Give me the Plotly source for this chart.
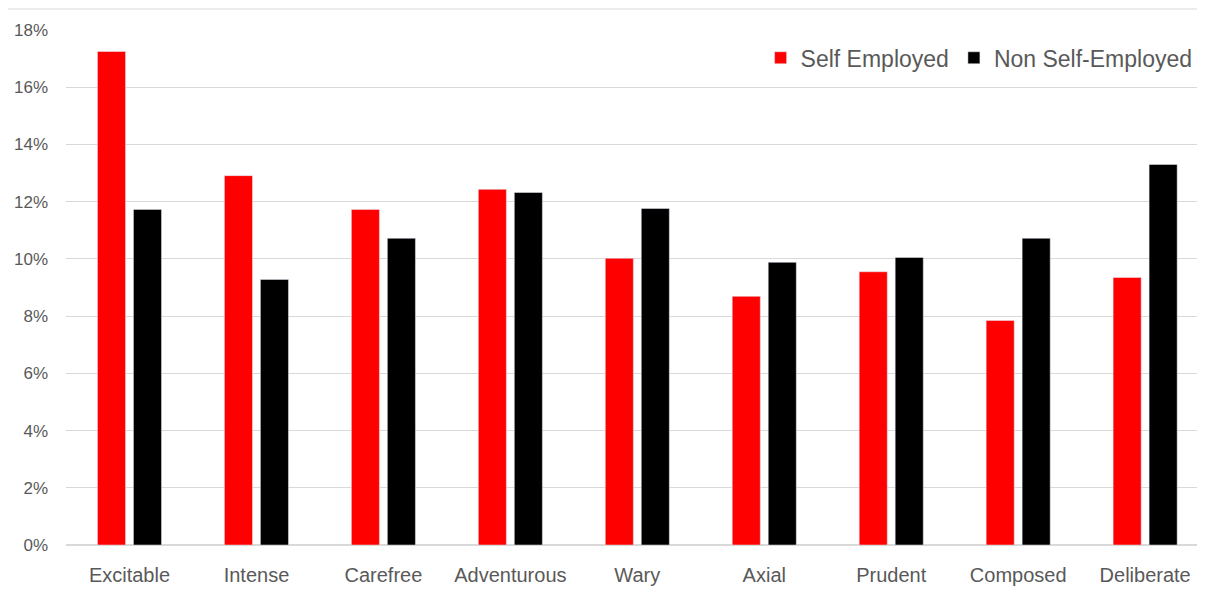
import plotly.graph_objects as go

categories = ["Excitable", "Intense", "Carefree", "Adventurous", "Wary", "Axial", "Prudent", "Composed", "Deliberate"]
self_employed = [0.1725, 0.1291, 0.1173, 0.1243, 0.1002, 0.0869, 0.0955, 0.0785, 0.0935]
non_self_employed = [0.1173, 0.0928, 0.1072, 0.1232, 0.1176, 0.0988, 0.1005, 0.1072, 0.1330]
y_ticks = [0, 0.02, 0.04, 0.06, 0.08, 0.10, 0.12, 0.14, 0.16, 0.18]

font_family = "Liberation Sans, Arial, sans-serif"
text_color = "#595959"

fig = go.Figure()
fig.add_trace(go.Bar(name="Self Employed", x=categories, y=self_employed, marker_color="#FF0000"))
fig.add_trace(go.Bar(name="Non Self-Employed", x=categories, y=non_self_employed, marker_color="#000000"))

fig.update_layout(
    width=1197, height=589,
    margin=dict(l=58, r=4, t=22, b=52),
    paper_bgcolor="white", plot_bgcolor="white",
    barmode="group", bargap=0.433, bargroupgap=0.22,
    font=dict(family=font_family, color=text_color),
    showlegend=True,
    legend=dict(orientation="h", x=0.997, xanchor="right", y=0.946, yanchor="middle",
                font=dict(size=23, color=text_color), bgcolor="rgba(0,0,0,0)",
                itemwidth=30, traceorder="normal"),
    xaxis=dict(range=[-0.5, 8.44], showgrid=False, showline=False, ticks="",
               tickfont=dict(size=20, color=text_color), ticklabelstandoff=16, fixedrange=True),
    yaxis=dict(range=[0, 0.18], tickvals=y_ticks, tickformat=".0%",
               showgrid=True, gridcolor="#D9D9D9", gridwidth=1, zeroline=True,
               zerolinecolor="#D9D9D9", showline=False, ticks="",
               tickfont=dict(size=17, color=text_color), ticklabelstandoff=17),
)

fig.add_shape(type="rect", xref="paper", yref="paper",
              x0=-0.052, x1=1.2, y0=-0.3, y1=1.0408,
              line=dict(color="#D9D9D9", width=1), fillcolor="rgba(0,0,0,0)", layer="below")

fig.write_html("out.html")
